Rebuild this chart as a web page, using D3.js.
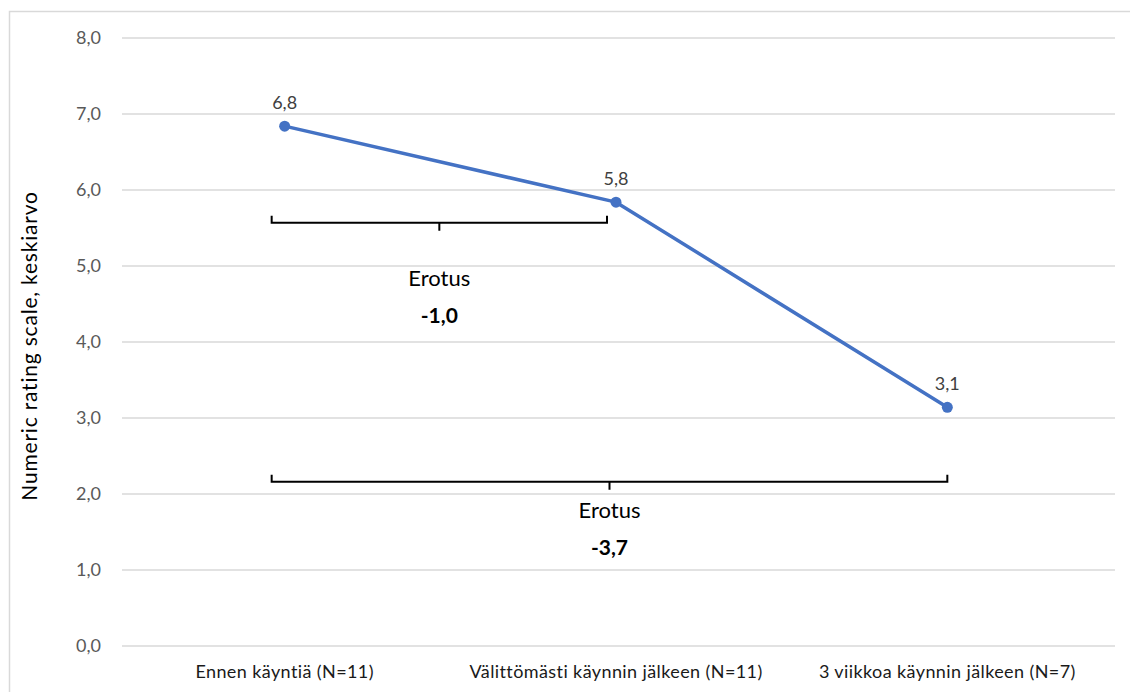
<!DOCTYPE html>
<html lang="fi">
<head>
<meta charset="utf-8">
<title>NRS</title>
<script src="https://d3js.org/d3.v7.min.js"></script>
<style>
  body { margin: 0; background: #fff; }
  text { font-family: Lato, "Open Sans", sans-serif; }
  .grid line { stroke: #d9d9d9; stroke-width: 1.5px; }
  .tick-label { fill: #595959; font-size: 18px; }
  .cat-label { fill: #1a1a1a; font-size: 18px; letter-spacing: 0.4px; }
  .val-label { fill: #404040; font-size: 18px; }
  .bracket { stroke: #000; stroke-width: 2px; fill: none; }
</style>
</head>
<body>
<svg width="1130" height="692"></svg>
<script>
// data
const categories = ["Ennen käyntiä (N=11)", "Välittömästi käynnin jälkeen (N=11)", "3 viikkoa käynnin jälkeen (N=7)"];
const means = [6.84, 5.84, 3.14];
const yTicks = [0, 1, 2, 3, 4, 5, 6, 7, 8];
// difference brackets: from category, to category, height (in scale units)
const diffFrom = [0, 0];
const diffTo = [1, 2];
const diffLevel = [5.57, 2.16];

const svg = d3.select("svg");

// comma decimals, plain hyphen for minus
const fmt = v => d3.format(".1f")(v).replace(".", ",").replace("\u2212", "-");

// outer frame (right/bottom edges fall outside the picture)
svg.append("rect")
   .attr("x", 9.5).attr("y", 11.5)
   .attr("width", 1140).attr("height", 700)
   .attr("fill", "none").attr("stroke", "#d9d9d9").attr("stroke-width", 1.5);

const x = d3.scaleBand().domain(d3.range(categories.length)).range([119, 1113]);
const y = d3.scaleLinear().domain([0, 8]).range([646, 38]);
const cx = i => x(i) + x.bandwidth() / 2;

// gridlines
svg.append("g").attr("class", "grid")
   .selectAll("line").data(yTicks).enter().append("line")
   .attr("x1", 122).attr("x2", 1115)
   .attr("y1", d => y(d)).attr("y2", d => y(d));

// y tick labels
svg.append("g").selectAll("text").data(yTicks).enter().append("text")
   .attr("class", "tick-label")
   .attr("x", 101).attr("y", d => y(d))
   .attr("dy", "0.35em").attr("text-anchor", "end")
   .text(d => fmt(d));

// y axis title
svg.append("text")
   .attr("transform", "translate(37,346) rotate(-90)")
   .attr("text-anchor", "middle")
   .attr("font-size", 21).attr("letter-spacing", "0.8px").attr("fill", "#000")
   .text("Numeric rating scale, keskiarvo");

// category labels
svg.append("g").selectAll("text").data(categories).enter().append("text")
   .attr("class", "cat-label")
   .attr("x", (d, i) => cx(i)).attr("y", 678)
   .attr("text-anchor", "middle")
   .text(d => d);

// line
const line = d3.line().x((d, i) => cx(i)).y(d => y(d));
svg.append("path").datum(means)
   .attr("d", line)
   .attr("fill", "none").attr("stroke", "#4472c4").attr("stroke-width", 3.5)
   .attr("stroke-linejoin", "round");

svg.append("g").selectAll("circle").data(means).enter().append("circle")
   .attr("cx", (d, i) => cx(i)).attr("cy", d => y(d))
   .attr("r", 5.5).attr("fill", "#4472c4");

svg.append("g").selectAll("text").data(means).enter().append("text")
   .attr("class", "val-label")
   .attr("x", (d, i) => cx(i)).attr("y", d => y(d) - 17)
   .attr("text-anchor", "middle")
   .text(d => fmt(d));

// difference brackets
diffFrom.forEach((f, k) => {
  const t = diffTo[k];
  const x1 = cx(f) - 13;
  const x2 = t === categories.length - 1 ? cx(t) : cx(t) - 9;
  const yy = y(diffLevel[k]);
  const mid = (x1 + x2) / 2;
  svg.append("path").attr("class", "bracket")
     .attr("d", `M${x1},${yy - 7}V${yy}H${x2}V${yy - 7}M${mid},${yy}V${yy + 8}`);
  const d = means[t] - means[f];
  const base = k === 0 ? yy + 63 : yy + 36;
  svg.append("text")
     .attr("x", mid).attr("y", base)
     .attr("text-anchor", "middle").attr("font-size", 22).attr("fill", "#000")
     .text("Erotus");
  svg.append("text")
     .attr("x", mid).attr("y", base + 37)
     .attr("text-anchor", "middle").attr("font-size", 21).attr("font-weight", "bold").attr("fill", "#000")
     .text(fmt(d));
});
</script>
</body>
</html>
